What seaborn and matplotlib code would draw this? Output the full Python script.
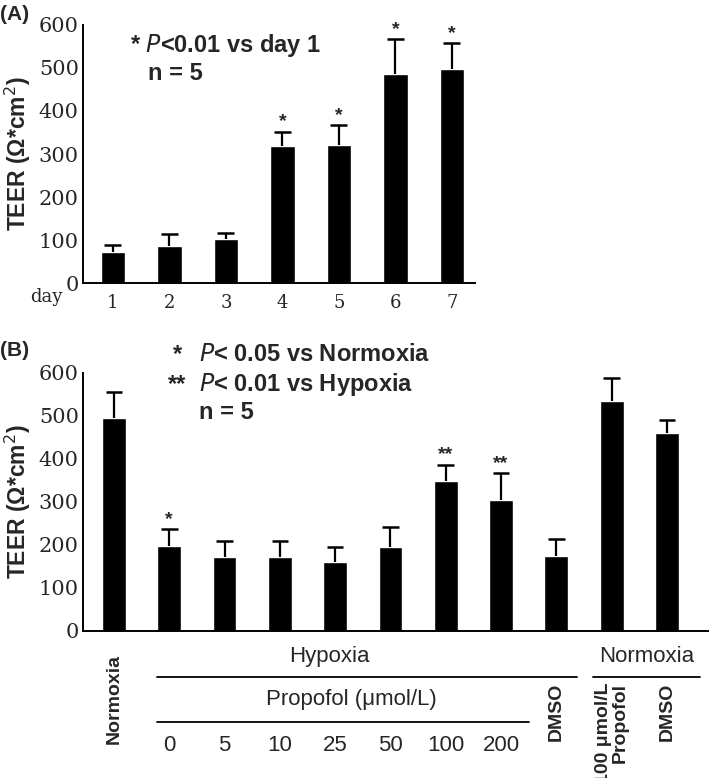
import numpy as np
import pandas as pd
import matplotlib
matplotlib.use("Agg")
import matplotlib.pyplot as plt
import seaborn as sns

# ---- data ----
a_days = ["1", "2", "3", "4", "5", "6", "7"]
a_mean = [72, 87, 103, 318, 320, 485, 497]
a_err = [16, 28, 13, 34, 47, 82, 60]
a_mark = ["", "", "", "*", "*", "*", "*"]

b_groups = ["Normoxia", "0", "5", "10", "25", "50", "100", "200", "DMSO",
            "100 μmol/L\nPropofol", "DMSO "]
b_mean = [495, 198, 172, 172, 160, 196, 348, 305, 175, 535, 461]
b_err = [60, 38, 38, 38, 34, 46, 38, 62, 38, 52, 29]
b_mark = ["", "*", "", "", "", "", "**", "**", "", "", ""]
b_rotated = [True, False, False, False, False, False, False, False, True, True, True]

yticks = [0, 100, 200, 300, 400, 500, 600]

sns.set_style("white")
plt.rcParams["font.family"] = ["Liberation Sans", "DejaVu Sans"]
SERIF = ["DejaVu Serif"]
NARROW = ["Liberation Sans Narrow", "Liberation Sans", "DejaVu Sans"]

fig = plt.figure(figsize=(7.09, 7.78), dpi=100)
ax_a = fig.add_axes([0.117, 0.636, 0.553, 0.332])
ax_b = fig.add_axes([0.117, 0.189, 0.883, 0.332])


def draw_bars(ax, labels, means, errs, marks):
    df = pd.DataFrame({"g": labels, "v": means})
    sns.barplot(data=df, x="g", y="v", order=labels, color="black",
                width=0.43, ax=ax, errorbar=None, saturation=1)
    pos = np.arange(len(labels))
    tops = np.array(means) + np.array(errs)
    # upper-only error bars
    ax.vlines(pos, means, tops, color="black", lw=1.6)
    ax.hlines(tops, pos - 0.15, pos + 0.15, color="black", lw=1.8)
    for p, t, s in zip(pos, tops, marks):
        if s:
            ax.text(p, t + 3, s, ha="center", va="bottom",
                    fontsize=14, fontweight="bold")
    ax.set_ylim(0, 600)
    ax.set_yticks(yticks)
    ax.set_yticklabels([str(t) for t in yticks], family=SERIF, fontsize=15)
    ax.tick_params(axis="both", length=0, pad=3)
    sns.despine(ax=ax)
    for sp in ["left", "bottom"]:
        ax.spines[sp].set_color("black")
        ax.spines[sp].set_linewidth(1.4)
    ax.set_xlabel("")
    ax.set_ylabel("TEER (Ω*cm$^2$)", fontsize=16.5, fontweight="bold",
                  family=["Liberation Sans", "DejaVu Sans"], labelpad=4)


# ---- panel A ----
draw_bars(ax_a, a_days, a_mean, a_err, a_mark)
ax_a.set_xlim(-0.53, 6.41)
ax_a.set_xticks(range(len(a_days)))
ax_a.set_xticklabels(a_days, family=SERIF, fontsize=13)
ax_a.tick_params(axis="x", pad=8)
fig.text(0.065, 1 - 297 / 778, "day", family=SERIF, fontsize=13,
         ha="center", va="center")
ax_a.text(0.12, 0.92, "* $\\mathit{P}$<0.01 vs day 1", transform=ax_a.transAxes,
          fontsize=17, fontweight="bold", va="center")
ax_a.text(0.165, 0.81, "n = 5", transform=ax_a.transAxes,
          fontsize=17, fontweight="bold", va="center")
fig.text(0.0, 0.982, "(A)", fontsize=15, fontweight="bold", va="center")

# ---- panel B ----
draw_bars(ax_b, b_groups, b_mean, b_err, b_mark)
ax_b.set_xlim(-0.56, 10.76)
ax_b.set_xticks([])
tr = ax_b.get_xaxis_transform()
for i, (lab, rot) in enumerate(zip(b_groups, b_rotated)):
    if rot:
        top = -0.09 if i == 0 else -0.2
        ax_b.text(i, top, lab.strip(), transform=tr, rotation=90, ha="center",
                  va="top", fontsize=14, fontweight="bold",
                  multialignment="right", linespacing=0.95)
    else:
        ax_b.text(i, -0.445, lab, transform=tr, ha="center", va="center",
                  fontsize=16, family=NARROW)

ax_b.text(3.9, -0.097, "Hypoxia", transform=tr, ha="center", va="center",
          fontsize=16, family=NARROW)
ax_b.plot([0.78, 8.37], [-0.178, -0.178], transform=tr, color="black",
          lw=1.3, clip_on=False)
ax_b.text(4.3, -0.267, "Propofol (μmol/L)", transform=tr, ha="center",
          va="center", fontsize=16, family=NARROW)
ax_b.plot([0.78, 7.5], [-0.353, -0.353], transform=tr, color="black",
          lw=1.3, clip_on=False)
ax_b.text(9.64, -0.097, "Normoxia", transform=tr, ha="center", va="center",
          fontsize=16, family=NARROW)
ax_b.plot([8.66, 10.6], [-0.178, -0.178], transform=tr, color="black",
          lw=1.3, clip_on=False)

ax_b.text(0.143, 1.07, "*", transform=ax_b.transAxes, fontsize=17,
          fontweight="bold", va="center")
ax_b.text(0.185, 1.07, "$\\mathit{P}$< 0.05 vs Normoxia", transform=ax_b.transAxes,
          fontsize=17, fontweight="bold", va="center")
ax_b.text(0.135, 0.955, "**", transform=ax_b.transAxes, fontsize=17,
          fontweight="bold", va="center")
ax_b.text(0.185, 0.955, "$\\mathit{P}$< 0.01 vs Hypoxia", transform=ax_b.transAxes,
          fontsize=17, fontweight="bold", va="center")
ax_b.text(0.185, 0.845, "n = 5", transform=ax_b.transAxes,
          fontsize=17, fontweight="bold", va="center")
fig.text(0.0, 0.55, "(B)", fontsize=15, fontweight="bold", va="center")

fig.savefig("out.png", dpi=100)
